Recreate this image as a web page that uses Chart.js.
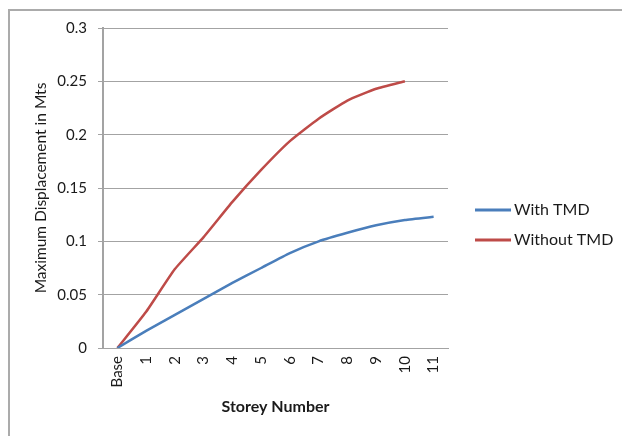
<!DOCTYPE html>
<html>
<head>
<meta charset="utf-8">
<script src="https://cdn.jsdelivr.net/npm/chart.js@4/dist/chart.umd.min.js"></script>
<style>
  html, body { margin: 0; padding: 0; background: #fff; overflow: hidden; }
  #wrap { position: relative; width: 622px; height: 436px; }
  #frame { position: absolute; left: 8px; top: 9px; width: 700px; height: 500px;
           border: 2px solid #ababab; box-sizing: border-box; }
  canvas { position: absolute; left: 0; top: 0; }
</style>
</head>
<body>
<div id="wrap">
  <div id="frame"></div>
  <canvas id="c" width="622" height="436"></canvas>
</div>
<script>
// Storeys along the x axis
const storeys = ['Base', '1', '2', '3', '4', '5', '6', '7', '8', '9', '10', '11'];
// Maximum displacement (m) per storey
const withTMD    = [0, 0.016, 0.031, 0.046, 0.061, 0.075, 0.089, 0.100, 0.108, 0.115, 0.120, 0.123];
const withoutTMD = [0, 0.034, 0.074, 0.104, 0.137, 0.167, 0.194, 0.215, 0.232, 0.243, 0.250, null];
const seriesNames = ['With TMD', 'Without TMD'];
const yMin = 0, yMax = 0.3, yStep = 0.05;

const FONT = 'Lato, "Open Sans", sans-serif';
const GRID = '#a3a3a3';
const INK = '#1a1a1a';

// Legend drawn to the right of the plot, one line sample per series
const sideLegend = {
  id: 'sideLegend',
  afterDraw(chart) {
    const ctx = chart.ctx;
    ctx.save();
    ctx.font = '16px ' + FONT;
    ctx.textBaseline = 'middle';
    ctx.textAlign = 'left';
    chart.data.datasets.forEach((ds, i) => {
      const y = 210 + i * 30;
      ctx.strokeStyle = ds.borderColor;
      ctx.lineWidth = 3;
      ctx.beginPath();
      ctx.moveTo(475, y);
      ctx.lineTo(511, y);
      ctx.stroke();
      ctx.fillStyle = INK;
      ctx.fillText(ds.label, 514, y);
    });
    ctx.restore();
  }
};

new Chart(document.getElementById('c'), {
  type: 'line',
  data: {
    labels: storeys,
    datasets: [
      { label: seriesNames[0], data: withTMD, borderColor: '#4a7ebb', borderWidth: 2.5,
        pointRadius: 0, tension: 0.15, fill: false },
      { label: seriesNames[1], data: withoutTMD, borderColor: '#be4b48', borderWidth: 2.5,
        pointRadius: 0, tension: 0.15, fill: false, spanGaps: false }
    ]
  },
  options: {
    responsive: false,
    animation: false,
    layout: { padding: { left: 9, top: 28, right: 174, bottom: 0 } },
    plugins: { legend: { display: false }, tooltip: { enabled: false } },
    scales: {
      x: {
        offset: true,
        grid: { display: false, drawTicks: false },
        border: { display: true, color: GRID, width: 1 },
        ticks: {
          minRotation: 90, maxRotation: 90, padding: 8, autoSkip: false,
          color: INK, font: { family: FONT, size: 15 }
        },
        title: {
          display: true, text: 'Storey Number', color: INK,
          font: { family: FONT, size: 16, weight: 'bold' },
          padding: { top: 4, bottom: 20 }
        },
        afterFit(scale) { scale.height = 88; }
      },
      y: {
        min: yMin, max: yMax,
        grid: { color: GRID, lineWidth: 1, drawTicks: true, tickLength: 5 },
        border: { display: true, color: GRID, width: 2 },
        ticks: {
          stepSize: yStep, padding: 11, color: INK,
          font: { family: FONT, size: 15 },
          callback: v => String(+v.toFixed(2))
        },
        title: {
          display: true, text: 'Maximum Displacement in Mts', color: INK,
          font: { family: FONT, size: 15.5 },
          padding: { top: 23, bottom: 4 }
        },
        afterFit(scale) { scale.width = 94; }
      }
    }
  },
  plugins: [sideLegend]
});
</script>
</body>
</html>
